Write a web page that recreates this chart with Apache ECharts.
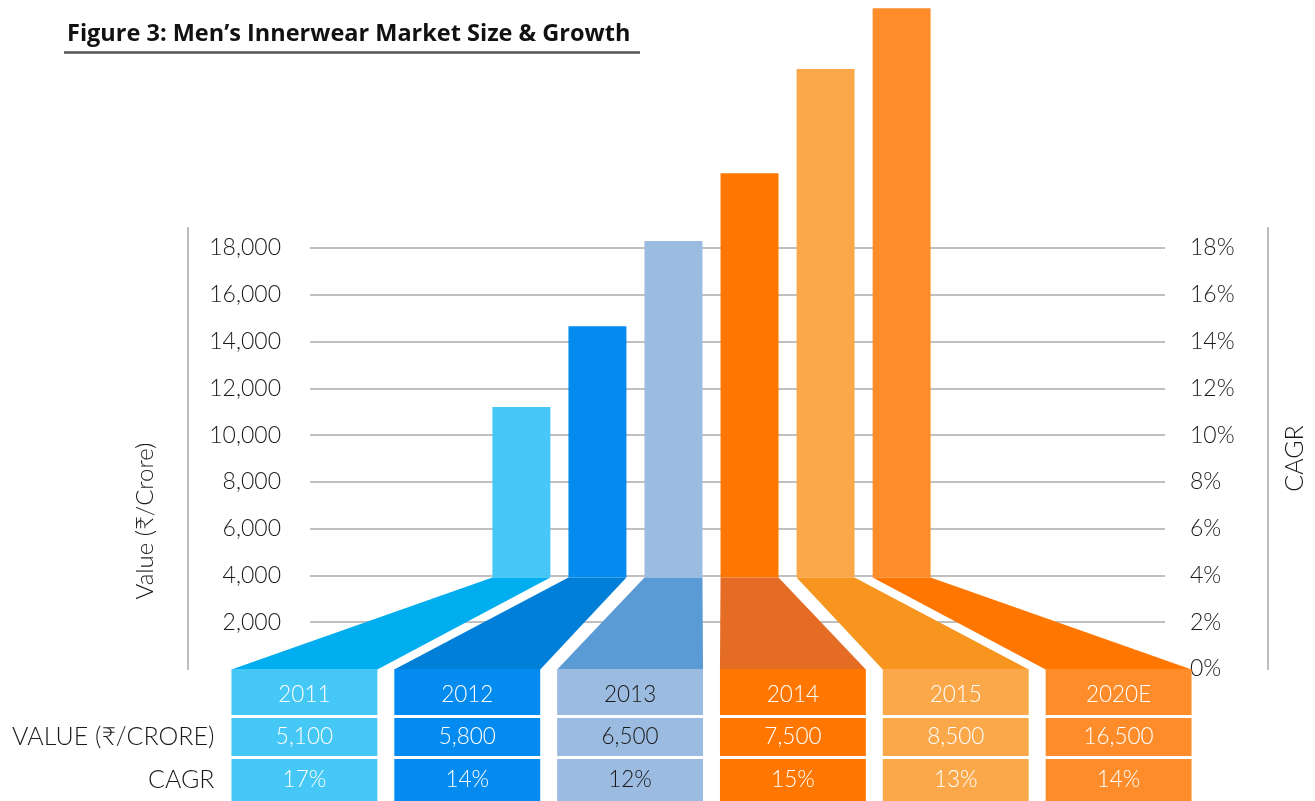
<!DOCTYPE html>
<html>
<head>
<meta charset="utf-8">
<script src="https://cdn.jsdelivr.net/npm/echarts@6/dist/echarts.min.js"></script>
<style>
  html, body { margin: 0; padding: 0; background: #fff; }
  #chart { width: 1315px; height: 801px; }
</style>
</head>
<body>
<div id="chart"></div>
<script>
// ---- data ----
const years = ['2011', '2012', '2013', '2014', '2015', '2020E'];
const marketValue = [5100, 5800, 6500, 7500, 8500, 16500];   // ₹/Crore
const cagr = [17, 14, 12, 15, 13, 14];                        // %
const barHeight = [11200, 14650, 18300, 21200, 25650, 28250]; // decorative bar tops, in axis units
const barBase = 4000;                                         // bars stand on this level
const rowLabels = ['VALUE (₹/CRORE)', 'CAGR'];

// ---- styles ----
const barColors = ['#45C8F5', '#038BF0', '#9BBBE1', '#FF7700', '#FAA84A', '#FF8C2B'];
const funnelColors = ['#00AEEF', '#007FD8', '#5B9BD5', '#E46C24', '#F7951E', '#FF7700'];
const cellText = ['#ffffff', '#ffffff', '#1a1a1a', '#ffffff', '#ffffff', '#ffffff'];
const FONT = 'Lato, "Noto Sans", sans-serif';

const chart = echarts.init(document.getElementById('chart'), null, { renderer: 'canvas' });

function renderItem(params, api) {
  const i = params.dataIndex;
  const n = years.length;
  const base = api.coord([i, 0]);
  const cx = base[0], y0 = base[1];
  const band = api.size([1, 0])[0];
  const first = api.coord([0, 0])[0];
  const last = api.coord([n - 1, 0])[0];
  const mid = (first + last) / 2;
  const bx = mid + (cx - mid) * 0.467;
  const bw = band * 0.356;
  const cw = band * 0.896;
  const yTop = api.coord([i, api.value(1)])[1];
  const yBase = api.coord([i, barBase])[1] + 2;

  const rows = [[0, 46], [49, 87], [90, 132]];
  const texts = [years[i], api.value(2).toLocaleString('en-US'), api.value(3) + '%'];
  const children = [
    { type: 'rect', shape: { x: bx - bw / 2, y: yTop, width: bw, height: yBase - yTop },
      style: { fill: barColors[i] } },
    { type: 'polygon', shape: { points: [[bx - bw / 2, yBase], [bx + bw / 2, yBase], [cx + cw / 2, y0 + 0.5], [cx - cw / 2, y0 + 0.5]] },
      style: { fill: funnelColors[i] } }
  ];
  rows.forEach((r, k) => {
    children.push({ type: 'rect', shape: { x: cx - cw / 2, y: y0 + r[0], width: cw, height: r[1] - r[0] },
      style: { fill: barColors[i] } });
    children.push({ type: 'text', style: {
      text: texts[k], x: cx, y: y0 + (r[0] + r[1]) / 2 + (k === 0 ? 3 : 0),
      align: 'center', verticalAlign: 'middle', fill: cellText[i],
      fontFamily: FONT, fontSize: 22.5, fontWeight: 300 } });
    if (i === 0 && k > 0) {
      children.push({ type: 'text', style: {
        text: rowLabels[k - 1], x: cx - cw / 2 - 17, y: y0 + (r[0] + r[1]) / 2,
        align: 'right', verticalAlign: 'middle', fill: '#1a1a1a',
        fontFamily: FONT, fontSize: 25, fontWeight: 300 } });
    }
  });
  return { type: 'group', children };
}

const option = {
  backgroundColor: '#ffffff',
  animation: false,
  title: {
    text: 'Figure 3: Men’s Innerwear Market Size & Growth',
    left: 62, top: 17,
    textStyle: { fontFamily: '"Open Sans", sans-serif', fontWeight: 'bold', fontSize: 23.5, color: '#111' }
  },
  grid: [
    { left: 310, right: 137, top: 248, bottom: 132 },
    { left: 223, right: 115, top: 248, bottom: 132 }
  ],
  xAxis: [
    { gridIndex: 0, type: 'value', min: 0, max: 1, show: false },
    { gridIndex: 1, type: 'category', data: years, show: false }
  ],
  yAxis: [
    { gridIndex: 0, type: 'value', min: 0, max: 18000, interval: 2000, position: 'left',
      axisLine: { show: false }, axisTick: { show: false },
      axisLabel: { margin: 29, fontFamily: FONT, fontSize: 23, fontWeight: 300, color: '#1a1a1a',
        formatter: v => v === 0 ? '' : v.toLocaleString('en-US') },
      splitLine: { show: true, showMinLine: false, lineStyle: { color: '#ABABAB', width: 1.5 } } },
    { gridIndex: 0, type: 'value', min: 0, max: 18, interval: 2, position: 'right',
      axisLine: { show: false }, axisTick: { show: false },
      axisLabel: { margin: 25, fontFamily: FONT, fontSize: 23, fontWeight: 300, color: '#1a1a1a',
        formatter: '{value}%' },
      splitLine: { show: false },
      name: 'CAGR', nameLocation: 'middle', nameRotate: 90, nameGap: 117,
      nameTextStyle: { fontFamily: FONT, fontSize: 25, fontWeight: 300, color: '#1a1a1a' } },
    { gridIndex: 1, type: 'value', min: 0, max: 18000, show: false }
  ],
  graphic: [
    { type: 'line', shape: { x1: 64, y1: 52.5, x2: 640, y2: 52.5 }, style: { stroke: '#555', lineWidth: 2.5 } },
    { type: 'line', shape: { x1: 188, y1: 227, x2: 188, y2: 670 }, style: { stroke: '#BDBDBD', lineWidth: 2 } },
    { type: 'line', shape: { x1: 1268, y1: 227, x2: 1268, y2: 670 }, style: { stroke: '#BDBDBD', lineWidth: 2 } },
    { type: 'text', x: 145, y: 521, rotation: Math.PI / 2,
      style: { text: 'Value (₹/Crore)', align: 'center', verticalAlign: 'middle',
        fontFamily: FONT, fontSize: 24, fontWeight: 300, fill: '#1a1a1a' } }
  ],
  series: [{
    type: 'custom',
    xAxisIndex: 1, yAxisIndex: 2,
    clip: false,
    renderItem: renderItem,
    encode: { x: 0, y: 1 },
    data: years.map((y, i) => [i, barHeight[i], marketValue[i], cagr[i]])
  }]
};
chart.setOption(option);
</script>
</body>
</html>
